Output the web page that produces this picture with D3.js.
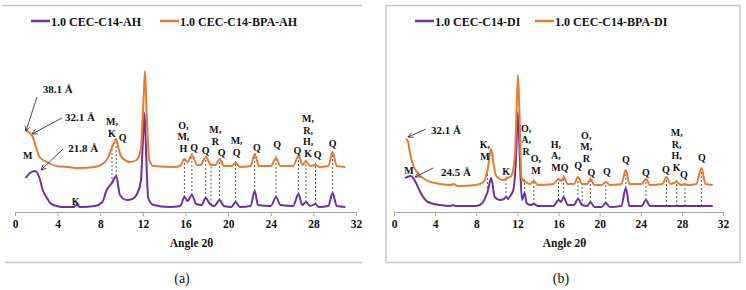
<!DOCTYPE html>
<html>
<head>
<meta charset="utf-8">
<script src="https://cdn.jsdelivr.net/npm/d3@7"></script>
<style>
  body { margin: 0; background: #fff; }
  svg text { font-family: "Liberation Serif", "Times New Roman", Times, serif !important; fill: #111; }
  .axis path, .axis line { stroke: #a6a6a6; }
  .axis text { font-size: 11.5px; font-weight: bold; }
  .lbl { font-size: 10px; font-weight: bold; }
  .note { font-size: 11px; font-weight: bold; }
</style>
</head>
<body>
<div id="chart"></div>
<script>
// XRD patterns, intensity in arbitrary units, angle 2-theta in degrees
var ticks = [0, 4, 8, 12, 16, 20, 24, 28, 32];

var ahPurple = [[1.0, 34], [1.4, 39], [1.9, 41], [2.3, 34], [2.6, 22], [3.0, 14], [3.3, 9], [3.9, 6], [4.5, 5],
  [5.5, 5], [5.8, 7], [6.1, 5], [7.5, 6], [8.2, 10], [8.6, 22], [9.1, 29], [9.5, 36], [9.85, 17], [10.5, 12],
  [11.0, 13], [11.4, 17], [11.8, 30], [12.0, 70], [12.15, 99], [12.3, 60], [12.5, 14], [13.0, 7], [14.5, 5],
  [15.5, 6], [15.9, 15], [16.2, 11], [16.6, 17], [17.0, 8], [17.5, 7], [17.9, 14], [18.3, 8], [18.7, 6],
  [19.2, 12], [19.6, 6], [20.3, 5], [20.7, 10], [21.1, 5], [22.1, 6], [22.5, 21], [22.8, 7], [24.0, 6],
  [24.5, 15], [24.9, 7], [26.1, 6], [26.6, 18], [26.95, 7], [27.3, 10], [27.7, 6], [28.2, 8], [28.5, 5],
  [29.4, 6], [29.8, 19], [30.2, 6], [31.0, 5]];

var ahOrange = [[0.95, 82], [1.4, 79], [1.7, 74], [2.0, 64], [2.3, 55], [3.0, 50], [3.9, 46], [5.0, 45],
  [6.0, 44], [7.5, 45], [8.2, 48], [8.6, 52], [9.2, 67], [9.5, 73], [9.75, 62], [10.0, 55], [10.8, 50],
  [11.4, 52], [11.8, 62], [12.05, 110], [12.2, 141], [12.35, 100], [12.6, 52], [13.0, 46], [15.0, 45],
  [15.5, 46], [15.9, 53], [16.2, 50], [16.6, 57], [17.1, 47], [17.4, 47], [17.9, 55], [18.4, 47], [18.8, 47],
  [19.2, 53], [19.6, 46], [20.3, 46], [20.7, 49], [21.1, 45], [22.1, 46], [22.5, 58], [22.9, 46], [24.0, 46],
  [24.5, 54], [24.9, 46], [26.1, 46], [26.6, 56], [27.0, 47], [27.3, 51], [27.7, 46], [28.2, 47], [28.6, 45],
  [29.4, 46], [29.8, 60], [30.2, 46], [31.0, 45]];

var diPurple = [[1.07, 34], [1.65, 36], [2.1, 30], [2.6, 19], [3.3, 10], [4.5, 7], [5.5, 6], [5.7, 7], [6.0, 6],
  [8.0, 6], [8.6, 9], [8.9, 15], [9.1, 20], [9.45, 34], [9.8, 15], [10.3, 12], [10.7, 13], [10.9, 15], [11.1, 13],
  [11.3, 16], [11.6, 22], [11.85, 50], [12.05, 100], [12.25, 50], [12.45, 12], [12.7, 19], [12.9, 9], [13.3, 7],
  [13.6, 8], [14.0, 6], [15.5, 6], [16.0, 12], [16.25, 10], [16.5, 15], [16.9, 7], [17.5, 7], [17.9, 13],
  [18.3, 7], [18.8, 6], [19.1, 10], [19.5, 5], [20.2, 5], [20.6, 9], [21.0, 5], [22.1, 6], [22.55, 24],
  [22.9, 6], [24.1, 6], [24.5, 12], [24.9, 6], [31.0, 6]];

var diOrange = [[1.15, 73], [1.35, 71], [1.55, 59], [1.85, 47], [2.3, 39], [3.1, 32], [4.5, 28], [5.5, 27],
  [5.8, 28], [6.2, 26], [8.0, 27], [8.7, 30], [9.1, 42], [9.45, 63], [9.7, 47], [9.9, 37], [10.6, 32],
  [11.0, 34], [11.4, 36], [11.75, 55], [11.95, 110], [12.06, 137], [12.2, 100], [12.4, 34], [12.8, 30],
  [13.2, 28], [13.6, 31], [14.0, 27], [15.5, 28], [16.0, 33], [16.25, 31], [16.5, 35], [16.9, 28], [17.5, 28],
  [17.9, 35], [18.3, 28], [18.8, 28], [19.1, 33], [19.5, 27], [20.2, 27], [20.6, 30], [21.0, 27], [22.1, 28],
  [22.55, 42], [22.9, 28], [24.1, 28], [24.5, 33], [24.9, 27], [26.1, 28], [26.5, 35], [26.9, 28], [27.5, 30],
  [27.9, 27], [28.3, 28], [28.6, 27], [29.4, 28], [29.9, 44], [30.3, 28], [31.0, 27]];

// peak drop lines (angles)
var ahDrops = [9.1, 9.5, 15.9, 16.6, 17.9, 18.4, 19.2, 20.7, 22.5, 24.5, 26.6, 27.3, 28.2, 29.8];
var diDrops = [9.1, 10.9, 12.7, 13.6, 16.0, 16.5, 17.9, 18.3, 19.1, 20.6, 22.55, 24.5, 26.5, 27.5, 28.3, 29.9];

// phase labels: angle, intensity of bottom line, text lines
var ahLabels = [[1.2, 53.5, 'M'], [5.7, 7.5, 'K'], [9.1, 75.5, 'M,|K'], [10.1, 71.5, 'Q'],
  [15.8, 60.5, 'O,|M,|H'], [16.8, 61.5, 'Q'], [17.9, 58.5, 'Q'], [18.8, 67.5, 'M,|R'], [19.4, 56.5, 'Q'],
  [20.8, 56.5, 'M,|Q'], [22.7, 61.5, 'Q'], [24.6, 64.5, 'Q'], [26.5, 58.5, 'Q'], [27.5, 55.5, 'M,|R,|H,|K'],
  [28.4, 54.5, 'Q'], [29.8, 65.5, 'Q']];
var diLabels = [[1.46, 38.5, 'M'], [8.85, 52.5, 'K,|M'], [10.9, 37.5, 'K'], [12.85, 57.5, 'O,|A,|R'],
  [13.8, 38.5, 'O,|M'], [15.75, 41.5, 'H,|A,|M'], [16.6, 41.5, 'Q'], [17.9, 43.5, 'Q'], [18.7, 50.5, 'O,|M,|R'],
  [19.2, 36.5, 'Q'], [20.7, 37.5, 'Q'], [22.55, 49.5, 'Q'], [24.5, 36.5, 'Q'], [26.45, 39.5, 'Q'],
  [27.5, 41.5, 'M,|R,|H,|K'], [28.2, 34.5, 'Q'], [29.95, 51.5, 'Q']];

// d-spacing notes: text, text angle, text intensity, arrow from [angle, int] to [angle, int]
var ahNotes = [['38.1 Å', 2.6, 119.5, [2.06, 115], [1.03, 81]],
  ['32.1 Å', 4.7, 91.5, [4.4, 94], [1.6, 78]],
  ['21.8 Å', 5.0, 60.5, [4.5, 63], [2.45, 42]]];
var diNotes = [['32.1 Å', 3.6, 78.5, [3.1, 83], [1.36, 75]],
  ['24.5 Å', 4.57, 36.5, [3.8, 44], [2.05, 35]]];

var purple = '#7030a0', orange = '#ec7a2c';

var svg = d3.select('#chart').append('svg').attr('width', 746).attr('height', 290);

svg.append('defs').append('marker')
  .attr('id', 'arr').attr('viewBox', '0 0 10 10').attr('refX', 9).attr('refY', 5)
  .attr('markerWidth', 7).attr('markerHeight', 7).attr('orient', 'auto')
  .append('path').attr('d', 'M1,1 L9,5 L1,9').attr('fill', 'none').attr('stroke', '#333').attr('stroke-width', 1.3);

// frames
svg.append('line').attr('x1', 2).attr('x2', 362).attr('y1', 5.5).attr('y2', 5.5).attr('stroke', '#c6c6c6').attr('stroke-width', 1.5);
svg.append('line').attr('x1', 5).attr('x2', 362).attr('y1', 262.5).attr('y2', 262.5).attr('stroke', '#c6c6c6').attr('stroke-width', 1.5);
svg.append('rect').attr('x', 386).attr('y', 5.5).attr('width', 354).attr('height', 257)
  .attr('fill', 'none').attr('stroke', '#c6c6c6').attr('stroke-width', 1.5);

function valueAt(series, a) {
  for (var i = 1; i < series.length; i++) {
    if (series[i][0] >= a) {
      var p = series[i - 1], q = series[i], t = (a - p[0]) / (q[0] - p[0]);
      return p[1] + t * (q[1] - p[1]);
    }
  }
  return series[series.length - 1][1];
}

function drawPanel(opt) {
  var x = d3.scaleLinear().domain([0, 32]).range([opt.x0, opt.x1]),
      y = d3.scaleLinear().domain([0, 150]).range([212, 62]),
      g = svg.append('g'),
      line = d3.line().x(function (d) { return x(d[0]); }).y(function (d) { return y(d[1]); }).curve(d3.curveMonotoneX);

  g.append('g').attr('class', 'axis').attr('transform', 'translate(0,212)')
    .call(d3.axisBottom(x).tickValues(ticks).tickSize(4).tickSizeOuter(0).tickPadding(4));
  g.select('.axis .domain').attr('stroke-width', 1.2);

  g.append('text').attr('x', (opt.x0 + opt.x1) / 2 + 6).attr('y', 247).attr('text-anchor', 'middle')
    .style('font-size', '11.5px').style('font-weight', 'bold').text('Angle 2θ');
  g.append('text').attr('x', opt.cap).attr('y', 283).attr('text-anchor', 'middle')
    .style('font-size', '14px').text(opt.caption);

  // drop lines
  g.selectAll('.drop').data(opt.drops).enter().append('line').attr('class', 'drop')
    .attr('x1', function (d) { return x(d); }).attr('x2', function (d) { return x(d); })
    .attr('y1', function (d) { return y(valueAt(opt.lower, d)); })
    .attr('y2', function (d) { return y(valueAt(opt.upper, d) + 2); })
    .attr('stroke', '#333').attr('stroke-width', 0.8).attr('stroke-dasharray', '2,2');

  g.append('path').datum(opt.lower).attr('d', line).attr('fill', 'none').attr('stroke', purple).attr('stroke-width', 2);
  g.append('path').datum(opt.upper).attr('d', line).attr('fill', 'none').attr('stroke', orange).attr('stroke-width', 2);

  // phase labels
  opt.labels.forEach(function (l) {
    var rows = l[2].split('|'), n = rows.length;
    var t = g.append('text').attr('class', 'lbl').attr('text-anchor', 'middle');
    rows.forEach(function (r, i) {
      t.append('tspan').attr('x', x(l[0])).attr('y', y(l[1]) - (n - 1 - i) * 11.5).text(r);
    });
  });

  // d-spacing notes
  opt.notes.forEach(function (n) {
    g.append('text').attr('class', 'note').attr('x', x(n[1])).attr('y', y(n[2])).text(n[0]);
    g.append('line').attr('x1', x(n[3][0])).attr('y1', y(n[3][1])).attr('x2', x(n[4][0])).attr('y2', y(n[4][1]))
      .attr('stroke', '#333').attr('stroke-width', 0.9).attr('marker-end', 'url(#arr)');
  });

  // legend
  var lg = g.append('g').attr('transform', 'translate(' + opt.leg[0] + ',21)');
  [[0, purple, opt.names[0]], [opt.leg[1], orange, opt.names[1]]].forEach(function (e) {
    lg.append('line').attr('x1', e[0]).attr('x2', e[0] + 19).attr('y1', 0).attr('y2', 0)
      .attr('stroke', e[1]).attr('stroke-width', 2.5);
    lg.append('text').attr('x', e[0] + 20).attr('y', 4.5).style('font-size', '12px').style('font-weight', 'bold').text(e[2]);
  });
}

drawPanel({ x0: 15, x1: 356, cap: 182, caption: '(a)', lower: ahPurple, upper: ahOrange, drops: ahDrops,
  labels: ahLabels, notes: ahNotes, leg: [31, 129], names: ['1.0 CEC-C14-AH', '1.0 CEC-C14-BPA-AH'] });
drawPanel({ x0: 394, x1: 723, cap: 561, caption: '(b)', lower: diPurple, upper: diOrange, drops: diDrops,
  labels: diLabels, notes: diNotes, leg: [415, 120], names: ['1.0 CEC-C14-DI', '1.0 CEC-C14-BPA-DI'] });
</script>
</body>
</html>
